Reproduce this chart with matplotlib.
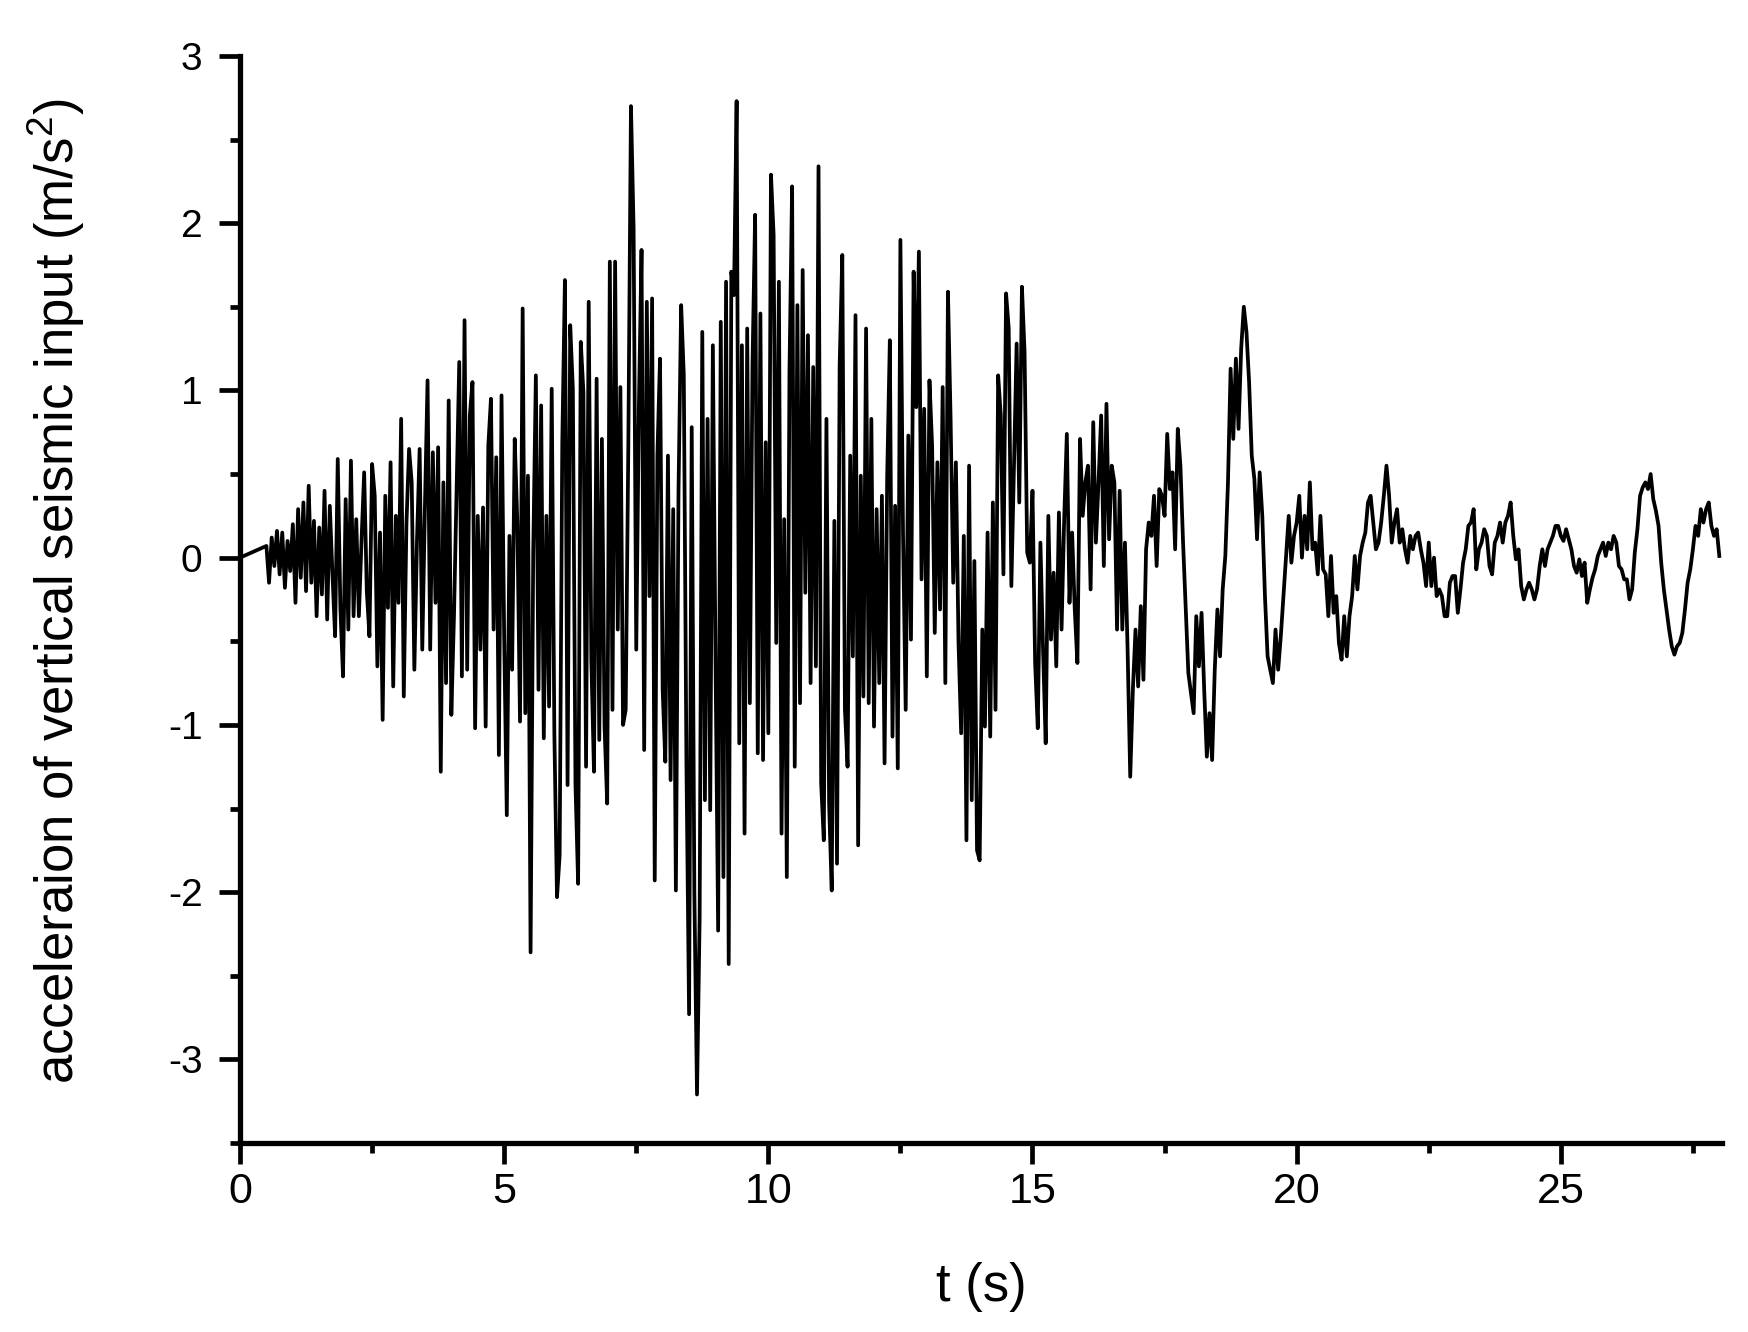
import numpy as np
import matplotlib
matplotlib.use("Agg")
from matplotlib import pyplot as plt
from matplotlib.ticker import MultipleLocator

plt.rcParams['font.family'] = ['Liberation Sans', 'DejaVu Sans']
plt.rcParams['mathtext.fontset'] = 'custom'
plt.rcParams['mathtext.rm'] = 'Liberation Sans'
plt.rcParams['mathtext.it'] = 'Liberation Sans:italic'

# record starts at 0.5 s, sampled every 0.05 s (the first point is the origin)
t_start = 0.5
dt = 0.05

acc_00_05 = [
    0.07, -0.15, 0.12, -0.05, 0.16, -0.10, 0.15, -0.18, 0.10, -0.08,
    0.20, -0.27, 0.29, -0.12, 0.33, -0.20, 0.43, -0.15, 0.22, -0.35,
    0.18, -0.22, 0.40, -0.37, 0.31, -0.10, -0.47, 0.59, -0.30, -0.71,
    0.35, -0.43, 0.58, -0.35, 0.23, -0.35, 0.10, 0.51, -0.20, -0.47,
    0.56, 0.37, -0.65, 0.15, -0.97, 0.37, -0.30, 0.57, -0.77, 0.25,
    -0.27, 0.83, -0.83, 0.20, 0.65, 0.45, -0.67, 0.10, 0.65, -0.55,
    0.30, 1.06, -0.55, 0.63, -0.27, 0.66, -1.28, 0.45, -0.75, 0.94,
    -0.94, -0.35, 0.40, 1.17, -0.71, 1.42, -0.67, 0.85, 1.05, -1.02,
    0.25, -0.55, 0.30, -1.01, 0.67, 0.95, -0.43, 0.60, -1.18, 0.97,
]
acc_05_10 = [
    -0.47, -1.54, 0.13, -0.67, 0.71, 0.20, -0.98, 1.49, -0.93, 0.49,
    -2.36, 0.03, 1.09, -0.79, 0.91, -1.08, 0.25, -0.89, 1.01, -1.05,
    -2.03, -1.78, 0.69, 1.66, -1.36, 1.39, 1.01, -1.36, -1.95, 1.29,
    0.99, -1.25, 1.53, -0.61, -1.28, 1.07, -1.09, 0.71, -1.01, -1.47,
    1.77, -0.91, 1.77, -0.43, 1.02, -1.00, -0.91, 0.67, 2.70, 1.97,
    -0.55, 0.90, 1.84, -1.15, 1.53, -0.23, 1.55, -1.93, 0.61, 1.19,
    -0.79, -1.22, 0.61, -1.33, 0.29, -1.99, 0.40, 1.51, 1.09, -1.23,
    -2.73, 0.78, -2.00, -3.21, -2.15, 1.35, -1.45, 0.83, -1.51, 1.27,
    -0.60, -2.23, 1.41, -1.91, 1.65, -2.43, 1.71, 1.57, 2.73, -1.11,
    1.27, -1.65, 1.37, -0.87, 1.15, 2.05, -1.17, 1.46, -1.21, 0.69,
]
acc_10_15 = [
    -1.05, 2.29, 1.93, -0.51, 1.65, -1.65, 0.23, -1.91, 1.11, 2.22,
    -1.25, 1.51, -0.87, 1.72, -0.21, 1.33, -0.75, 1.14, -0.65, 2.34,
    -1.35, -1.69, 0.83, -1.47, -1.99, 0.22, -1.83, 1.15, 1.81, -0.91,
    -1.25, 0.61, -0.59, 1.45, -1.72, 0.49, -0.83, 1.37, -0.87, 0.83,
    -1.01, 0.29, -0.75, 0.37, -1.23, 0.49, 1.30, -1.07, 0.31, -1.26,
    1.90, 0.13, -0.91, 0.73, -0.49, 1.71, 0.90, 1.83, -0.13, 0.89,
    -0.71, 1.06, 0.67, -0.45, 0.57, -0.31, 1.02, -0.75, 1.59, 0.83,
    -0.15, 0.57, -0.51, -1.05, 0.13, -1.69, 0.55, -1.45, -0.02, -1.75,
    -1.81, -0.43, -1.01, 0.15, -1.07, 0.33, -0.91, 1.09, 0.85, -0.10,
    1.58, 1.37, -0.17, 0.57, 1.28, 0.33, 1.62, 1.23, 0.03, -0.03,
]
acc_15_20 = [
    0.40, -0.63, -1.02, 0.09, -0.55, -1.11, 0.25, -0.49, -0.09, -0.65,
    0.27, -0.43, 0.23, 0.74, -0.27, 0.15, -0.31, -0.63, 0.71, 0.25,
    0.45, 0.55, -0.19, 0.81, 0.09, 0.45, 0.85, -0.05, 0.92, 0.11,
    0.55, 0.45, -0.43, 0.40, -0.43, 0.09, -0.55, -1.31, -0.79, -0.43,
    -0.77, -0.29, -0.73, 0.05, 0.21, 0.13, 0.37, -0.05, 0.41, 0.37,
    0.25, 0.74, 0.41, 0.51, 0.05, 0.77, 0.55, 0.09, -0.30, -0.69,
    -0.81, -0.93, -0.35, -0.65, -0.33, -0.79, -1.19, -0.93, -1.21, -0.67,
    -0.31, -0.59, -0.19, 0.01, 0.45, 1.13, 0.71, 1.19, 0.77, 1.25,
    1.50, 1.35, 1.05, 0.61, 0.47, 0.11, 0.51, 0.25, -0.23, -0.59,
    -0.67, -0.75, -0.43, -0.67, -0.47, -0.23, 0.01, 0.25, -0.03, 0.13,
]
acc_20_25 = [
    0.21, 0.37, 0.00, 0.25, 0.05, 0.45, 0.05, 0.09, -0.10, 0.25,
    -0.07, -0.10, -0.35, 0.01, -0.33, -0.23, -0.51, -0.61, -0.35, -0.59,
    -0.35, -0.23, 0.01, -0.19, 0.01, 0.09, 0.15, 0.33, 0.37, 0.21,
    0.05, 0.09, 0.21, 0.37, 0.55, 0.37, 0.09, 0.21, 0.29, 0.09,
    0.17, 0.05, -0.03, 0.13, 0.05, 0.13, 0.15, 0.05, -0.03, -0.17,
    0.09, -0.17, 0.00, -0.23, -0.19, -0.23, -0.35, -0.35, -0.15, -0.11,
    -0.11, -0.33, -0.19, -0.03, 0.05, 0.19, 0.21, 0.29, -0.07, 0.05,
    0.09, 0.17, 0.13, -0.05, -0.10, 0.09, 0.13, 0.21, 0.09, 0.21,
    0.25, 0.33, 0.13, -0.01, 0.05, -0.17, -0.25, -0.19, -0.15, -0.19,
    -0.25, -0.19, -0.05, 0.05, -0.05, 0.05, 0.09, 0.13, 0.19, 0.19,
]
acc_25_28 = [
    0.13, 0.10, 0.17, 0.11, 0.05, -0.05, -0.09, -0.01, -0.11, -0.03,
    -0.27, -0.19, -0.12, -0.07, 0.01, 0.05, 0.09, 0.01, 0.09, 0.05,
    0.13, 0.09, -0.05, -0.07, -0.13, -0.13, -0.25, -0.19, 0.03, 0.17,
    0.37, 0.42, 0.45, 0.41, 0.50, 0.35, 0.28, 0.19, -0.03, -0.19,
    -0.31, -0.43, -0.53, -0.58, -0.53, -0.51, -0.45, -0.31, -0.15, -0.07,
    0.05, 0.19, 0.13, 0.29, 0.21, 0.29, 0.33, 0.19, 0.13, 0.17,
    0.01,
]

x_ticks = [0, 5, 10, 15, 20, 25]
y_ticks = [-3, -2, -1, 0, 1, 2, 3]


def main():
    record = acc_00_05 + acc_05_10 + acc_10_15 + acc_15_20 + acc_20_25 + acc_25_28
    t = np.concatenate([[0.0], t_start + dt * np.arange(len(record))])
    acc = np.concatenate([[0.0], record])

    fig = plt.figure(figsize=(17.48, 13.32), dpi=100)
    ax = fig.add_axes([0.1373, 0.1419, 0.8478, 0.8161])
    ax.plot(t, acc, color='black', lw=2.7)

    ax.set_xlim(0, 28.05)
    ax.set_ylim(-3.5, 3)
    ax.set_xticks(x_ticks)
    ax.set_yticks(y_ticks)
    ax.xaxis.set_minor_locator(MultipleLocator(2.5))
    ax.yaxis.set_minor_locator(MultipleLocator(0.5))
    ax.set_yticklabels([str(v) for v in y_ticks])

    for side in ('top', 'right'):
        ax.spines[side].set_visible(False)
    for side in ('left', 'bottom'):
        ax.spines[side].set_linewidth(3.8)

    ax.tick_params(which='major', direction='out', length=15, width=3.4)
    ax.tick_params(which='minor', direction='out', length=7.5, width=3.4)
    ax.tick_params(axis='x', which='major', labelsize=31, pad=6)
    ax.tick_params(axis='y', which='major', labelsize=28, pad=12)

    ax.set_xlabel('t (s)', fontsize=38, va='center')
    ax.xaxis.set_label_coords(0.5, -0.1325)
    ax.set_ylabel(r'acceleraion of vertical seismic input (m/s$^{\mathrm{2}}$)',
                  fontsize=38, va='center')
    ax.yaxis.set_label_coords(-0.1242, 0.508)

    fig.savefig('out.png', dpi=100)


if __name__ == "__main__":
    main()
